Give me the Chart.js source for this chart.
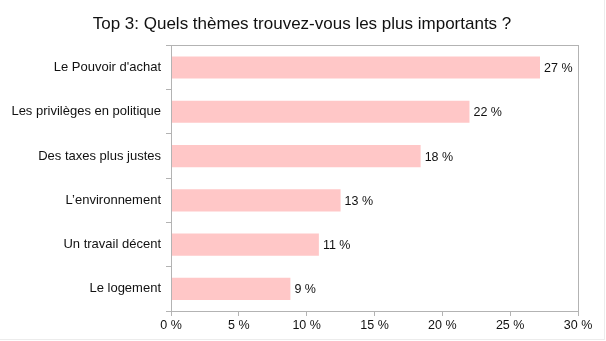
<!DOCTYPE html>
<html><head><meta charset="utf-8">
<script src="https://cdn.jsdelivr.net/npm/chart.js@4"></script>
<style>
html,body{margin:0;padding:0;background:#fff;}
#wrap{width:604px;height:339px;border-right:1px solid #ececec;border-bottom:1px solid #ececec;background:#fff;}
</style></head>
<body><div id="wrap"><canvas id="c" width="604" height="339"></canvas></div>
<script>
const titleText = "Top 3: Quels thèmes trouvez-vous les plus importants ?";
const categories = ["Le Pouvoir d'achat","Les privilèges en politique","Des taxes plus justes","L’environnement","Un travail décent","Le logement"];
const values = [27.2, 22.0, 18.4, 12.5, 10.9, 8.8];
const xTicks = [0,5,10,15,20,25,30];

const FONT = "'Liberation Sans', Arial, sans-serif";

const frame = {
  id:'frame',
  afterDraw(chart){
    const {ctx, chartArea:a} = chart;
    ctx.save();
    ctx.strokeStyle = '#b3b3b3';
    ctx.lineWidth = 1;
    ctx.strokeRect(Math.round(a.left)+0.5, Math.round(a.top)+0.5, Math.round(a.right-a.left), Math.round(a.bottom-a.top));
    const meta = chart.getDatasetMeta(0);
    ctx.fillStyle = '#111';
    ctx.font = "12.5px " + FONT;
    ctx.textBaseline = 'middle';
    ctx.textAlign = 'left';
    meta.data.forEach((bar,i)=>{
      ctx.fillText(Math.round(values[i]) + ' %', bar.x + 4, bar.y + 1);
    });
    ctx.restore();
  }
};

new Chart(document.getElementById('c'), {
  type:'bar',
  data:{labels:categories, datasets:[{data:values, backgroundColor:'#ffc7c7', borderWidth:0, barPercentage:0.5, categoryPercentage:1}]},
  options:{
    responsive:false, animation:false, indexAxis:'y',
    layout:{padding:{left:12,right:26,top:0,bottom:4}},
    plugins:{legend:{display:false}, tooltip:{enabled:false},
      title:{display:true, text:titleText, color:'#111', font:{family:FONT,size:17,weight:'normal'}, padding:{top:14,bottom:11}}},
    scales:{
      x:{min:0,max:30, afterBuildTicks(s){s.ticks = xTicks.map(v=>({value:v}));},
        border:{color:'#b3b3b3'},
        grid:{drawOnChartArea:false, color:'#b3b3b3', tickLength:5},
        ticks:{color:'#111', font:{family:FONT,size:12.5}, padding:2, maxRotation:0, callback:v=>v+' %'}},
      y:{border:{color:'#b3b3b3'},
        grid:{drawOnChartArea:false, color:'#b3b3b3', tickLength:5, offset:true},
        ticks:{color:'#111', font:{family:FONT,size:13}, padding:5},
        afterFit(s){s.width=159;}}
    }
  },
  plugins:[frame,{
    id:'centerTitle',
    afterLayout(chart){
      const t = chart.titleBlock;
      if(t){ const w = t.width; t.left = (chart.width - w)/2 + 0; t.right = t.left + w; }
    }
  }]
});
</script></body></html>
